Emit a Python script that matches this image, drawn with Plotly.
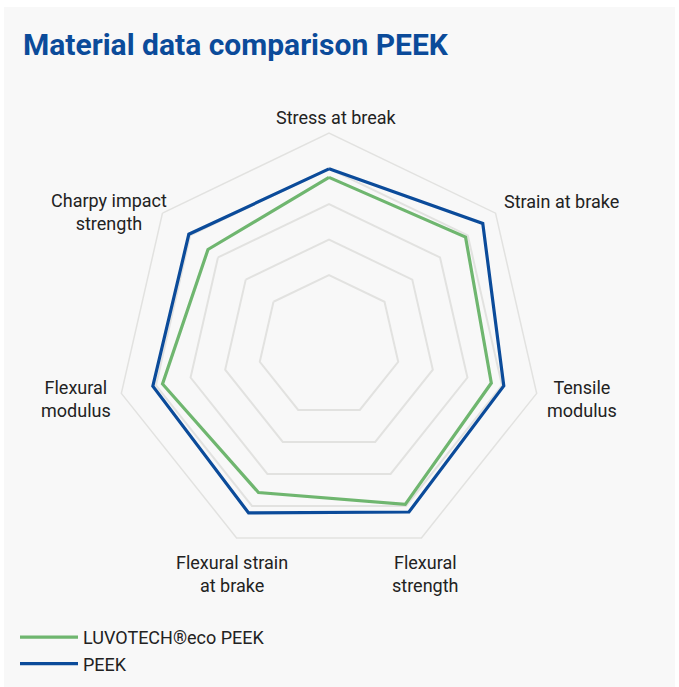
import plotly.graph_objects as go

categories = ["Stress at break", "Strain at brake", "Tensile<br>modulus", "Flexural<br>strength",
              "Flexural strain<br>at brake", "Flexural<br>modulus", "Charpy impact<br>strength"]
eco_peek = [4.75, 4.92, 4.69, 4.95, 4.58, 4.81, 4.36]
peek = [4.99, 5.54, 5.05, 5.19, 5.22, 5.09, 5.05]
series_names = ["LUVOTECH®eco PEEK", "PEEK"]
grid_vals = [2, 3, 4, 5, 6]

W, H = 679, 687
GREEN = "#6fb66f"
BLUE = "#0b4b9a"
GRID = "#e2e2e0"

# label block centres (pixels from top-left)
label_pos = [(336, 117), (561, 201), (582, 399), (425, 574), (232, 574), (76, 399), (109, 212)]

fig = go.Figure()
for i, (name, vals, col) in enumerate([(series_names[0], eco_peek, GREEN), (series_names[1], peek, BLUE)]):
    fig.add_trace(go.Scatterpolar(
        r=vals + vals[:1], theta=categories + categories[:1], mode="lines", name=name,
        legendgroup=f"g{i}",
        line=dict(color=col, width=3.2), hoverinfo="skip"))

annotations = []
for text, (px, py) in zip(categories, label_pos):
    annotations.append(dict(text=text, xref="paper", yref="paper", x=px / W, y=1 - py / H,
                            xanchor="center", yanchor="middle", align="center", showarrow=False,
                            font=dict(size=18, color="#222222")))

cx, cy, R = 329, 346, 213
fig.update_layout(
    width=W, height=H,
    margin=dict(l=0, r=0, t=0, b=0),
    paper_bgcolor="white",
    font=dict(family="Roboto, 'Open Sans', sans-serif", size=18, color="#222222"),
    title=dict(text="<b>Material data comparison PEEK</b>", x=23 / W, xanchor="left",
               y=1 - 44 / H, yanchor="middle",
               font=dict(family="'Liberation Sans Narrow', Roboto, sans-serif", size=30, color="#0b4b9a")),
    polar=dict(
        domain=dict(x=[(cx - R) / W, (cx + R) / W], y=[1 - (cy + R) / H, 1 - (cy - R) / H]),
        bgcolor="rgba(0,0,0,0)",
        gridshape="linear",
        radialaxis=dict(range=[0, 6], tickvals=grid_vals, showticklabels=False, ticks="",
                        showline=False, gridcolor=GRID, gridwidth=1.5),
        angularaxis=dict(direction="clockwise", rotation=90, showgrid=False, ticks="",
                         showticklabels=False,
                         showline=True, linecolor=GRID, linewidth=1.5),
    ),
    annotations=annotations,
    showlegend=True,
    legend=dict(x=15 / W, xanchor="left", y=1 - 619 / H, yanchor="top",
                bgcolor="rgba(0,0,0,0)", font=dict(size=18, color="#222222"),
                itemwidth=58, traceorder="grouped", tracegroupgap=0),
    shapes=[dict(type="rect", xref="paper", yref="paper", x0=4 / W, x1=675 / W, y0=-0.05, y1=1 - 7 / H,
                 fillcolor="#f8f8f8", line=dict(width=0), layer="below")],
)

fig.write_html("out.html", config={"displayModeBar": False},
               post_script="document.body.style.margin='0';document.body.style.overflow='hidden';")
